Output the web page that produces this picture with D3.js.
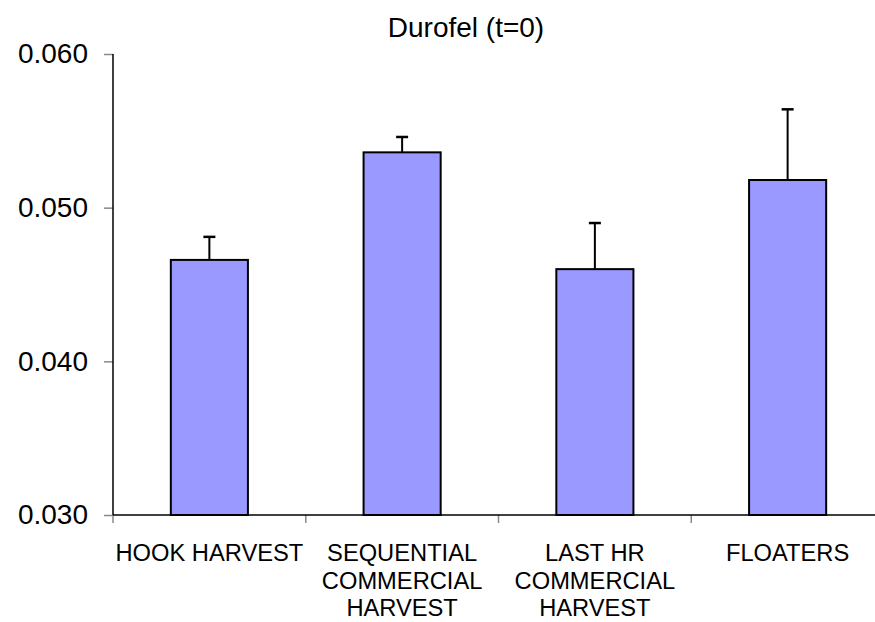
<!DOCTYPE html>
<html>
<head>
<meta charset="utf-8">
<script src="https://cdn.jsdelivr.net/npm/d3@7"></script>
<style>
  html, body { margin: 0; padding: 0; background: #fff; }
  svg { display: block; font-family: "Liberation Sans", Arial, sans-serif; }
</style>
</head>
<body>
<svg id="chart" width="875" height="622"></svg>
<script>
const title = "Durofel (t=0)";
const categories = [
  ["HOOK HARVEST"],
  ["SEQUENTIAL", "COMMERCIAL", "HARVEST"],
  ["LAST HR", "COMMERCIAL", "HARVEST"],
  ["FLOATERS"]
];
const values = [0.0466, 0.0536, 0.0460, 0.0518];
const errors = [0.0015, 0.0010, 0.0030, 0.0046];
const yTicks = [0.030, 0.040, 0.050, 0.060];

(function () {
const svg = d3.select("#chart");
const pLeft = 113, pRight = 884, pTop = 54, pBottom = 515;

const x = d3.scaleBand()
  .domain(d3.range(categories.length))
  .range([pLeft, pRight])
  .paddingInner(0.6)
  .paddingOuter(0.3);
const y = d3.scaleLinear().domain([0.03, 0.06]).range([pBottom, pTop]);

// title
svg.append("text")
  .attr("x", 466).attr("y", 37)
  .attr("text-anchor", "middle")
  .attr("font-size", 28)
  .attr("fill", "#000")
  .text(title);

// Y axis
const yAxis = svg.append("g").attr("transform", `translate(${pLeft},0)`)
  .call(d3.axisLeft(y).tickValues(yTicks).tickFormat(d3.format(".3f")).tickSize(9).tickPadding(16));
yAxis.select(".domain").remove();
yAxis.selectAll(".tick line").attr("stroke", "#888").attr("stroke-width", 1.5);
yAxis.selectAll(".tick text").attr("font-size", 28).attr("fill", "#000")
  .attr("font-family", "'Liberation Sans', Arial, sans-serif");
svg.append("line").attr("x1", pLeft).attr("x2", pLeft).attr("y1", pTop).attr("y2", pBottom)
  .attr("stroke", "#000").attr("stroke-width", 1.5);

// X axis boundary ticks
const step = x.step();
const boundaries = d3.range(categories.length + 1).map(i => pLeft + i * step);
svg.selectAll("line.xtick").data(boundaries).join("line")
  .attr("class", "xtick")
  .attr("x1", d => d).attr("x2", d => d)
  .attr("y1", pBottom).attr("y2", pBottom + 8)
  .attr("stroke", "#888").attr("stroke-width", 1.5);

// bars
svg.selectAll("rect.bar").data(values).join("rect")
  .attr("class", "bar")
  .attr("x", (d, i) => x(i))
  .attr("y", d => y(d))
  .attr("width", x.bandwidth())
  .attr("height", d => pBottom - y(d))
  .attr("fill", "#9999FF")
  .attr("stroke", "#000")
  .attr("stroke-width", 2);

svg.append("line").attr("x1", pLeft).attr("x2", pRight).attr("y1", pBottom).attr("y2", pBottom)
  .attr("stroke", "#000").attr("stroke-width", 1.5);

// error bars
const eg = svg.selectAll("g.err").data(values).join("g").attr("class", "err");
eg.append("line")
  .attr("x1", (d, i) => x(i) + x.bandwidth() / 2)
  .attr("x2", (d, i) => x(i) + x.bandwidth() / 2)
  .attr("y1", d => y(d))
  .attr("y2", (d, i) => y(d + errors[i]))
  .attr("stroke", "#000").attr("stroke-width", 2);
eg.append("line")
  .attr("x1", (d, i) => x(i) + x.bandwidth() / 2 - 6)
  .attr("x2", (d, i) => x(i) + x.bandwidth() / 2 + 6)
  .attr("y1", (d, i) => y(d + errors[i]))
  .attr("y2", (d, i) => y(d + errors[i]))
  .attr("stroke", "#000").attr("stroke-width", 2.5);

// category labels
const lab = svg.selectAll("text.cat").data(categories).join("text")
  .attr("class", "cat")
  .attr("text-anchor", "middle")
  .attr("font-size", 23.7)
  .attr("fill", "#000");
lab.each(function (lines, i) {
  const t = d3.select(this);
  lines.forEach((ln, j) => {
    t.append("tspan")
      .attr("x", x(i) + x.bandwidth() / 2)
      .attr("y", 561 + j * 27.5)
      .text(ln);
  });
});
})();
</script>
</body>
</html>
